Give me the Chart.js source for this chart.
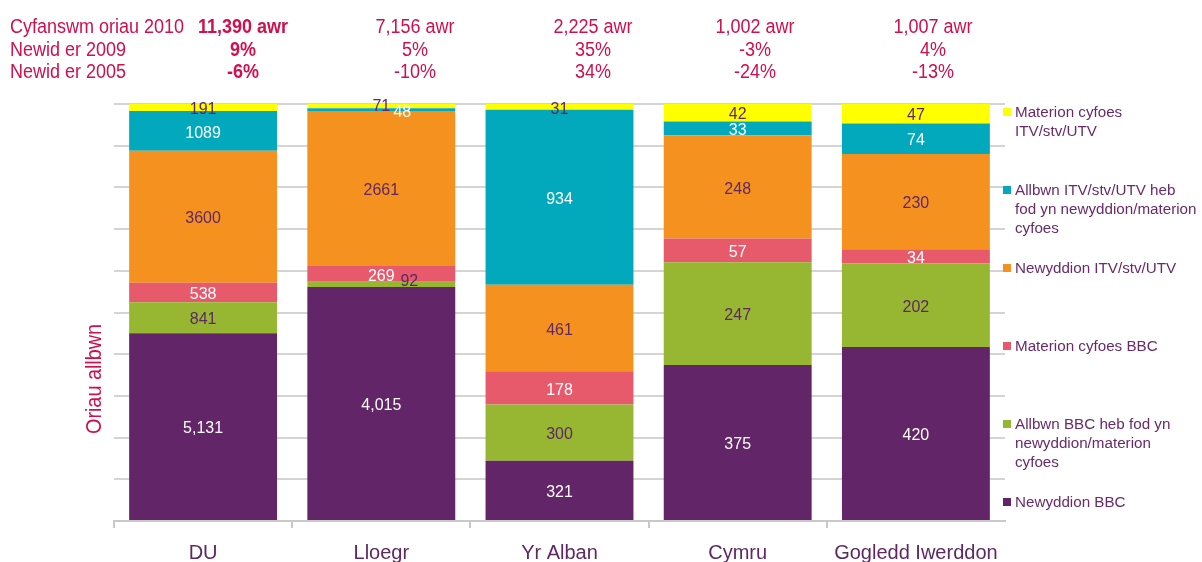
<!DOCTYPE html>
<html>
<head>
<meta charset="utf-8">
<script src="https://cdn.jsdelivr.net/npm/chart.js@4/dist/chart.umd.min.js"></script>
<style>
  html, body { margin: 0; padding: 0; background: #ffffff; }
  #wrap { width: 1202px; height: 562px; position: relative; }
</style>
</head>
<body>
<div id="wrap"><canvas id="c" width="1202" height="562"></canvas></div>
<script>
// ---- Data ----
const categories = ['DU', 'Lloegr', 'Yr Alban', 'Cymru', 'Gogledd Iwerddon'];
const newsBBC   = [5131, 4015, 321, 375, 420];
const otherBBC  = [841, 92, 300, 247, 202];
const caBBC     = [538, 269, 178, 57, 34];
const newsITV   = [3600, 2661, 461, 248, 230];
const otherITV  = [1089, 48, 934, 33, 74];
const caITV     = [191, 71, 31, 42, 47];

const seriesNames = [
  'Newyddion BBC',
  'Allbwn BBC heb fod yn newyddion/materion cyfoes',
  'Materion cyfoes BBC',
  'Newyddion ITV/stv/UTV',
  'Allbwn ITV/stv/UTV heb fod yn newyddion/materion cyfoes',
  'Materion cyfoes ITV/stv/UTV'
];
const legendLines = [
  ['Newyddion BBC'],
  ['Allbwn BBC heb fod yn', 'newyddion/materion', 'cyfoes'],
  ['Materion cyfoes BBC'],
  ['Newyddion ITV/stv/UTV'],
  ['Allbwn ITV/stv/UTV heb', 'fod yn newyddion/materion', 'cyfoes'],
  ['Materion cyfoes', 'ITV/stv/UTV']
];

const rowLabels  = ['Cyfanswm oriau 2010', 'Newid er 2009', 'Newid er 2005'];
const totals     = ['11,390 awr', '7,156 awr', '2,225 awr', '1,002 awr', '1,007 awr'];
const change2009 = ['9%', '5%', '35%', '-3%', '4%'];
const change2005 = ['-6%', '-10%', '34%', '-24%', '-13%'];
const yTicks = [0, 10, 20, 30, 40, 50, 60, 70, 80, 90, 100];

// ---- Styles ----
const colors = ['#622567', '#97b631', '#e65a6b', '#f5921f', '#02a9bc', '#ffff00'];
const labelColors = ['#ffffff', '#5f2764', '#ffffff', '#5f2764', '#ffffff', '#5f2764'];
const CRIMSON = '#cf0f4e';
const PURPLE_TXT = '#6a2a6a';
const FONT = '"Liberation Sans", Arial, sans-serif';

const rawSeries = [newsBBC, otherBBC, caBBC, newsITV, otherITV, caITV];
const sums = categories.map((_, i) => rawSeries.reduce((a, s) => a + s[i], 0));

const datasets = rawSeries.map((s, k) => ({
  label: seriesNames[k],
  data: s.map((v, i) => v / sums[i] * 100),
  raw: s,
  backgroundColor: colors[k],
  borderWidth: 0,
  barPercentage: 0.83,
  categoryPercentage: 1.0,
  stack: 's'
}));

// label nudges for crowded thin segments: key "dataset-index" -> [dx, dy]
const nudges = { '4-1': [21, 3], '1-1': [28, -3], '5-1': [0, 0] };

function condensedText(ctx, txt, x, y, sx) {
  ctx.save();
  ctx.translate(x, y);
  ctx.scale(sx, 1);
  ctx.fillText(txt, 0, 0);
  ctx.restore();
}

const overlay = {
  id: 'overlay',
  afterDatasetsDraw(chart) {
    const ctx = chart.ctx;
    ctx.save();
    ctx.font = '17px ' + FONT;
    ctx.textAlign = 'center';
    ctx.textBaseline = 'middle';
    chart.data.datasets.forEach((ds, k) => {
      const meta = chart.getDatasetMeta(k);
      meta.data.forEach((el, i) => {
        const v = ds.raw[i];
        const txt = k === 0 ? v.toLocaleString('en-US') : String(v);
        const n = nudges[k + '-' + i] || [0, 2];
        ctx.fillStyle = labelColors[k];
        condensedText(ctx, txt, el.x + n[0], (el.y + el.base) / 2 + n[1], 0.94);
      });
    });
    ctx.restore();
  },
  afterDraw(chart) {
    const ctx = chart.ctx;
    ctx.save();
    // header rows
    const rowsY = [27, 50, 72];
    const colX = [243, 415, 593, 755, 933];
    ctx.fillStyle = CRIMSON;
    ctx.textBaseline = 'middle';
    ctx.textAlign = 'left';
    ctx.font = '20px ' + FONT;
    rowLabels.forEach((t, r) => condensedText(ctx, t, 10, rowsY[r], 0.9));
    const rows = [totals, change2009, change2005];
    ctx.textAlign = 'center';
    rows.forEach((row, r) => {
      row.forEach((t, i) => {
        ctx.font = (i === 0 ? 'bold 20px ' : '20px ') + FONT;
        condensedText(ctx, t, colX[i], rowsY[r], 0.9);
      });
    });
    // y axis title
    ctx.save();
    ctx.translate(95, 379);
    ctx.rotate(-Math.PI / 2);
    ctx.scale(0.9, 1);
    ctx.font = '22px ' + FONT;
    ctx.fillStyle = CRIMSON;
    ctx.textAlign = 'center';
    ctx.textBaseline = 'middle';
    ctx.fillText('Oriau allbwn', 0, 0);
    ctx.restore();
    // legend (top entry is last series)
    ctx.font = '15.2px ' + FONT;
    ctx.textAlign = 'left';
    ctx.textBaseline = 'middle';
    for (let e = 0; e < 6; e++) {
      const k = 5 - e;
      const y0 = 112 + e * 78;
      ctx.fillStyle = colors[k];
      ctx.fillRect(1003, y0 - 4, 8, 8);
      ctx.fillStyle = PURPLE_TXT;
      legendLines[k].forEach((ln, j) => ctx.fillText(ln, 1015, y0 + 1 + j * 19));
    }
    ctx.restore();
  }
};

new Chart(document.getElementById('c'), {
  type: 'bar',
  data: { labels: categories, datasets },
  plugins: [overlay],
  options: {
    responsive: false,
    animation: false,
    devicePixelRatio: 1,
    layout: { padding: { left: 114, right: 197, top: 104, bottom: 0 } },
    plugins: { legend: { display: false }, title: { display: false }, tooltip: { enabled: false } },
    scales: {
      x: {
        stacked: true,
        grid: {
          drawOnChartArea: false, drawTicks: true, tickLength: 7, lineWidth: 2,
          color: (c) => (c.type === 'tick' ? '#c8c8c8' : 'rgba(0,0,0,0)')
        },
        border: { display: true, color: '#c8c8c8', width: 2 },
        ticks: { color: '#5f2764', font: { family: FONT, size: 20 }, padding: 13, maxRotation: 0 },
        afterFit(s) { s.height = 41; }
      },
      y: {
        stacked: true,
        min: 0, max: 100,
        afterBuildTicks(s) { s.ticks = yTicks.map(v => ({ value: v })); },
        ticks: { display: false },
        grid: { color: '#d4d4d4', lineWidth: 2, drawTicks: false },
        border: { display: false },
        afterFit(s) { s.width = 0; }
      }
    }
  }
});
</script>
</body>
</html>
